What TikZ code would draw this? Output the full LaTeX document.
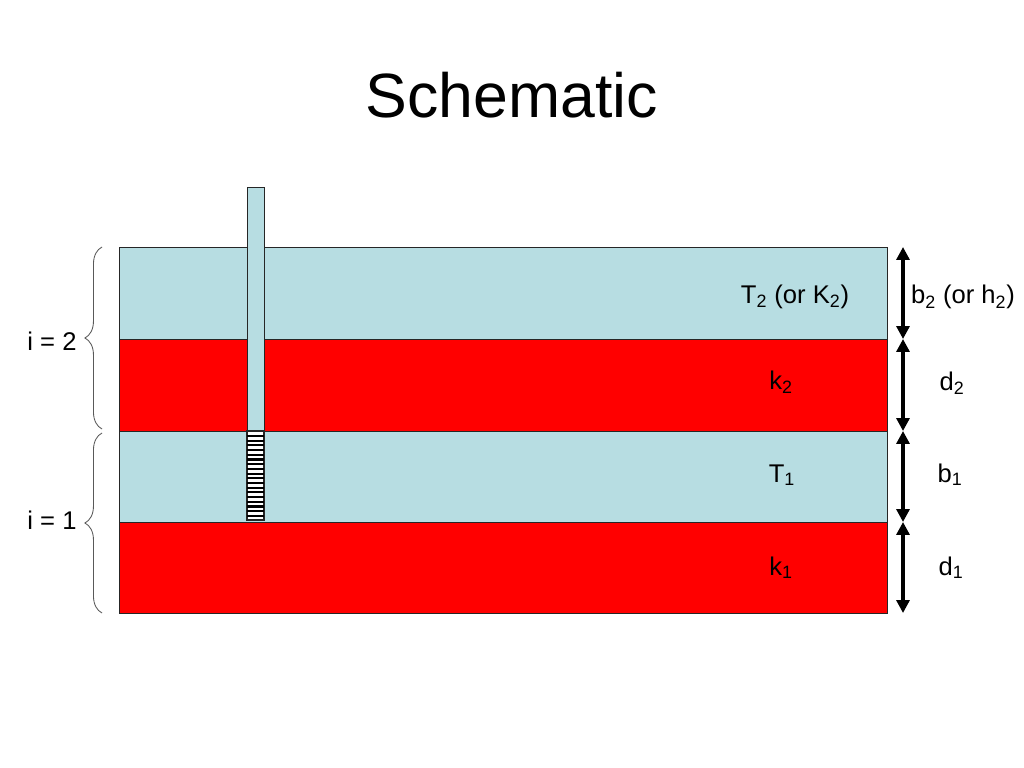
\documentclass[tikz,border=0pt]{standalone}
\usepackage{fontspec}
\setmainfont{Liberation Sans}
\usepackage{tikz}
\usetikzlibrary{arrows.meta,decorations.pathreplacing}
\definecolor{aqblue}{RGB}{183,221,226}
\definecolor{aqred}{RGB}{255,0,0}
\tikzstyle{layer} = [draw=black!85, line width=0.6pt]
\tikzstyle{lbl} = [font=\fontsize{18}{20}\selectfont, anchor=base, inner sep=0pt]
\tikzstyle{dim} = [line width=2.2pt, {Triangle[length=9pt,width=9pt]}-{Triangle[length=9pt,width=9pt]}]
\tikzstyle{bracket} = [decorate, decoration={brace, amplitude=12pt}, draw=black!65, line width=0.6pt]

\begin{document}
\begin{tikzpicture}[x=0.703125pt, y=-0.703125pt]
\useasboundingbox (0,0) rectangle (1024,768);
% Title
\node[font=\fontsize{44}{48}\selectfont, anchor=base] (title) at (512,118) {Schematic};

% Layers, top to bottom
\draw[layer, fill=aqblue] (119,247) rectangle (887,339);
\draw[layer, fill=aqred] (119,339) rectangle (887,431);
\draw[layer, fill=aqblue] (119,431) rectangle (887,522);
\draw[layer, fill=aqred] (119,522) rectangle (887,613);

\node[lbl] (t2) at (795,303) {T\textsubscript{2} (or K\textsubscript{2})};
\node[lbl] (k2) at (781,389) {k\textsubscript{2}};
\node[lbl] (t1) at (782,482) {T\textsubscript{1}};
\node[lbl] (k1) at (781,575) {k\textsubscript{1}};

% Well casing and screen
\draw[layer, fill=aqblue] (247,187) rectangle (264,431);
\draw[layer, line width=0.9pt, fill=white] (247,431) rectangle (264,520);
\foreach \y in {436,440.7,...,518}
  \draw[line width=1.5pt] (247,\y) -- (264,\y);

% Braces
\draw[bracket] (102,429) -- (102,247);
\draw[bracket] (102,613) -- (102,433);
\node[lbl] (i2) at (52,350) {i = 2};
\node[lbl] (i1) at (52,529) {i = 1};

% Thickness arrows
\coordinate (a0) at (903,247);
\coordinate (a1) at (903,339);
\coordinate (a2) at (903,431);
\coordinate (a3) at (903,522);
\coordinate (a4) at (903,613);
\draw[dim] (a0) -- (a1);
\draw[dim] (a1) -- (a2);
\draw[dim] (a2) -- (a3);
\draw[dim] (a3) -- (a4);

\node[lbl] (b2) at (963,304) {b\textsubscript{2} (or h\textsubscript{2})};
\node[lbl] (d2) at (952,390) {d\textsubscript{2}};
\node[lbl] (b1) at (950,482) {b\textsubscript{1}};
\node[lbl] (d1) at (951,575) {d\textsubscript{1}};
\end{tikzpicture}
\end{document}
